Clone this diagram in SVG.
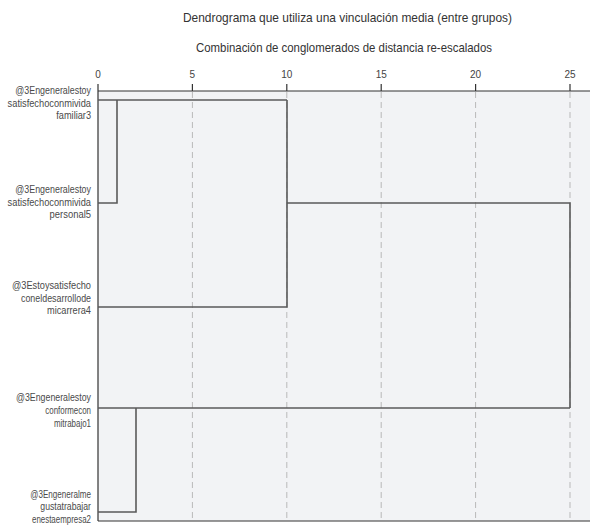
<svg xmlns="http://www.w3.org/2000/svg" width="590" height="529" viewBox="0 0 590 529">
<style>
.title{font-family:"Liberation Sans",Arial,sans-serif;font-size:13px;fill:#333}
.tick{font-family:"Liberation Sans",Arial,sans-serif;font-size:10px;fill:#444;text-anchor:middle}
.lbl{font-family:"Liberation Sans",Arial,sans-serif;font-size:11px;fill:#4a4a4a;text-anchor:end}
.axis{stroke:#333;stroke-width:1.2;fill:none}
.grid{stroke:#b9b9b9;stroke-width:1;stroke-dasharray:6,4;fill:none}
.link{stroke:#5a5a5a;stroke-width:1.6;fill:none}
</style>
<rect x="0" y="0" width="590" height="529" fill="#ffffff"/>
<rect x="98" y="91" width="492" height="430" fill="#f2f3f5"/>
<text class="title" x="183" y="22" textLength="329" lengthAdjust="spacingAndGlyphs">Dendrograma que utiliza una vinculación media (entre grupos)</text>
<text class="title" x="196" y="52" textLength="296" lengthAdjust="spacingAndGlyphs">Combinación de conglomerados de distancia re-escalados</text>
<g id="axis">
<text class="tick" x="98" y="78">0</text>
<text class="tick" x="192.4" y="78">5</text>
<text class="tick" x="286.8" y="78">10</text>
<text class="tick" x="381.2" y="78">15</text>
<text class="tick" x="475.6" y="78">20</text>
<text class="tick" x="570" y="78">25</text>
<path class="grid" d="M192.4,92V521M286.8,92V521M381.2,92V521M475.6,92V521M570,92V521"/>
<path class="axis" d="M98,84V521M98,91H590M98,521H590M192.4,84V91M286.8,84V91M381.2,84V91M475.6,84V91M570,84V91"/>
</g>
<g id="leaf-familiar3">
<text class="lbl" x="91" y="94" textLength="75.7" lengthAdjust="spacingAndGlyphs">@3Engeneralestoy</text>
<text class="lbl" x="91" y="106.5" textLength="83.4" lengthAdjust="spacingAndGlyphs">satisfechoconmivida</text>
<text class="lbl" x="91" y="119" textLength="34.7" lengthAdjust="spacingAndGlyphs">familiar3</text>
</g>
<g id="leaf-personal5">
<text class="lbl" x="91" y="193" textLength="75.7" lengthAdjust="spacingAndGlyphs">@3Engeneralestoy</text>
<text class="lbl" x="91" y="205.5" textLength="83.4" lengthAdjust="spacingAndGlyphs">satisfechoconmivida</text>
<text class="lbl" x="91" y="218" textLength="41.4" lengthAdjust="spacingAndGlyphs">personal5</text>
</g>
<g id="leaf-micarrera4">
<text class="lbl" x="91" y="289" textLength="79" lengthAdjust="spacingAndGlyphs">@3Estoysatisfecho</text>
<text class="lbl" x="91" y="301.5" textLength="70" lengthAdjust="spacingAndGlyphs">coneldesarrollode</text>
<text class="lbl" x="91" y="314" textLength="44" lengthAdjust="spacingAndGlyphs">micarrera4</text>
</g>
<g id="leaf-mitrabajo1">
<text class="lbl" x="91" y="401" textLength="75" lengthAdjust="spacingAndGlyphs">@3Engeneralestoy</text>
<text class="lbl" x="91" y="414" textLength="45.7" lengthAdjust="spacingAndGlyphs">conformecon</text>
<text class="lbl" x="91" y="427" textLength="37" lengthAdjust="spacingAndGlyphs">mitrabajo1</text>
</g>
<g id="leaf-enestaempresa2">
<text class="lbl" x="91" y="497.5" textLength="60.7" lengthAdjust="spacingAndGlyphs">@3Engeneralme</text>
<text class="lbl" x="91" y="510" textLength="50.7" lengthAdjust="spacingAndGlyphs">gustatrabajar</text>
<text class="lbl" x="91" y="522.5" textLength="59" lengthAdjust="spacingAndGlyphs">enestaempresa2</text>
</g>
<g id="connectors">
<path class="link" d="M98,100H287"/>
<path class="link" d="M98,203H117V100"/>
<path class="link" d="M98,307H287V100"/>
<path class="link" d="M287,203H570V408"/>
<path class="link" d="M98,408H570"/>
<path class="link" d="M98,512H136V408"/>
</g>
</svg>
